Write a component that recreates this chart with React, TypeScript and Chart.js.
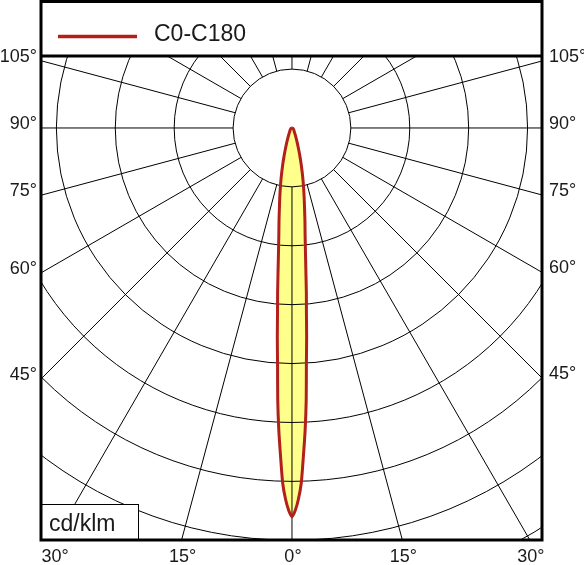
import React, { useEffect, useRef } from "react";
import { Chart, registerables } from "chart.js";

Chart.register(...registerables);

// Gamma angles (deg from nadir) and luminous intensity (cd/klm), C0-C180 plane (symmetric)
const gammaAngles = [0, 0.5, 1, 1.5, 2, 2.5, 3, 3.5, 4, 4.5, 5, 6, 7, 8, 9, 10, 12, 14, 16, 18, 20, 25, 30, 40, 50, 60, 70, 80, 90];
const intensityC0C180 = [6600, 6490, 6300, 6030, 5570, 5130, 4620, 4010, 3570, 3125, 2800, 2210, 1830, 1580, 1360, 1190, 900, 660, 475, 340, 255, 135, 85, 50, 35, 25, 17, 8, 0];

const seriesLabel = "C0-C180";
const unitLabel = "cd/klm";
const ringValues = [1000, 2000, 3000, 4000, 5000, 6000, 7000, 8000, 9000];
const sideLabelAngles = [45, 60, 75, 90, 105];
const bottomLabelAngles = [-30, -15, 0, 15, 30];
const radialAngles = [0, 15, 30, 45, 60, 75, 90, 105, 120, 135, 150, 165, 180, 195, 210, 225, 240, 255, 270, 285, 300, 315, 330, 345];

const FONT = '"Liberation Sans", Arial, sans-serif';
const RED = "rgb(178,32,28)";

function buildCurve() {
  const pts: { x: number; y: number }[] = [];
  for (let i = gammaAngles.length - 1; i >= 0; i--) {
    const a = (gammaAngles[i] * Math.PI) / 180;
    pts.push({ x: -intensityC0C180[i] * Math.sin(a), y: -intensityC0C180[i] * Math.cos(a) });
  }
  for (let i = 1; i < gammaAngles.length; i++) {
    const a = (gammaAngles[i] * Math.PI) / 180;
    pts.push({ x: intensityC0C180[i] * Math.sin(a), y: -intensityC0C180[i] * Math.cos(a) });
  }
  return pts;
}

const polarPlugin = {
  id: "polarPlugin",
  afterDatasetDraw(chart: any, args: any) {
    if (args.index !== 1) return;
    const { ctx, chartArea } = chart;
    const xs = chart.scales.x;
    const ys = chart.scales.y;
    const cx = xs.getPixelForValue(0);
    const cy = ys.getPixelForValue(0);
    const rp = (v: number) => Math.abs(xs.getPixelForValue(v) - cx);
    ctx.save();
    ctx.beginPath();
    ctx.rect(chartArea.left, chartArea.top, chartArea.right - chartArea.left, chartArea.bottom - chartArea.top);
    ctx.clip();
    ctx.strokeStyle = "#000";
    ctx.lineWidth = 1;
    ringValues.forEach((v) => {
      ctx.beginPath();
      ctx.arc(cx, cy, rp(v), 0, Math.PI * 2);
      ctx.stroke();
    });
    const r0 = ringValues[0];
    const r1 = ringValues[ringValues.length - 1] * 1.5;
    radialAngles.forEach((deg) => {
      const a = (deg * Math.PI) / 180;
      const x0 = xs.getPixelForValue(r0 * Math.sin(a));
      const y0 = ys.getPixelForValue(-r0 * Math.cos(a));
      const x1 = xs.getPixelForValue(r1 * Math.sin(a));
      const y1 = ys.getPixelForValue(-r1 * Math.cos(a));
      ctx.beginPath();
      ctx.moveTo(x0, y0);
      ctx.lineTo(x1, y1);
      ctx.stroke();
    });
    ctx.restore();
  },
  afterDraw(chart: any) {
    const { ctx, chartArea } = chart;
    const xs = chart.scales.x;
    const ys = chart.scales.y;
    const cx = xs.getPixelForValue(0);
    const cy = ys.getPixelForValue(0);
    const L = chartArea.left, R = chartArea.right, T = chartArea.top, B = chartArea.bottom;
    ctx.save();

    // unit box
    ctx.fillStyle = "#fff";
    ctx.fillRect(L, B - 35, 97, 35);
    ctx.strokeStyle = "#000";
    ctx.lineWidth = 1;
    ctx.strokeRect(L + 0.5, B - 35.5, 97, 35);
    ctx.fillStyle = "#1a1a1a";
    ctx.font = `23px ${FONT}`;
    ctx.textAlign = "left";
    ctx.textBaseline = "alphabetic";
    ctx.fillText(unitLabel, L + 8, B - 9);

    // frame
    ctx.lineWidth = 3;
    ctx.strokeStyle = "#000";
    ctx.strokeRect(L, 1.5, R - L, B - 1.5);
    ctx.beginPath();
    ctx.moveTo(L, T);
    ctx.lineTo(R, T);
    ctx.stroke();

    // legend
    ctx.strokeStyle = RED;
    ctx.lineWidth = 3.5;
    ctx.beginPath();
    ctx.moveTo(L + 17, 36.5);
    ctx.lineTo(L + 96, 36.5);
    ctx.stroke();
    ctx.fillStyle = "#1a1a1a";
    ctx.font = `23px ${FONT}`;
    ctx.textAlign = "left";
    ctx.textBaseline = "alphabetic";
    ctx.fillText(chart.data.datasets[0].label, L + 113, 41);

    // side labels
    ctx.font = `18px ${FONT}`;
    ctx.fillStyle = "#1a1a1a";
    ctx.textBaseline = "alphabetic";
    sideLabelAngles.forEach((deg) => {
      const a = (deg * Math.PI) / 180;
      const tL = (cx - L) / Math.sin(a);
      const yL = cy + tL * Math.cos(a);
      ctx.textAlign = "right";
      ctx.fillText(`${deg}°`, L - 4, yL + 1);
      const tR = (R - cx) / Math.sin(a);
      const yR = cy + tR * Math.cos(a);
      ctx.textAlign = "left";
      ctx.fillText(`${deg}°`, R + 7, yR + 1);
    });
    // bottom labels
    ctx.textAlign = "center";
    bottomLabelAngles.forEach((deg) => {
      const a = (deg * Math.PI) / 180;
      const t = (B - cy) / Math.cos(a);
      const x = cx + t * Math.sin(a);
      ctx.fillText(`${Math.abs(deg)}°`, x + 1, B + 22);
    });
    ctx.restore();
  },
};

export default function App() {
  const ref = useRef<HTMLCanvasElement | null>(null);
  useEffect(() => {
    if (!ref.current) return;
    const curve = buildCurve();
    const chart = new Chart(ref.current, {
      type: "scatter",
      data: {
        datasets: [
          {
            label: seriesLabel,
            data: curve,
            showLine: true,
            borderColor: RED,
            borderWidth: 3,
            pointRadius: 0,
            tension: 0.2,
            fill: false,
          },
          {
            label: "fill",
            data: curve,
            showLine: true,
            borderWidth: 0,
            borderColor: "rgba(0,0,0,0)",
            backgroundColor: "rgb(255,255,140)",
            pointRadius: 0,
            tension: 0.2,
            fill: "shape",
          },
        ],
      } as any,
      options: {
        animation: false,
        responsive: false,
        devicePixelRatio: 1,
        layout: { padding: { left: 41, right: 42, top: 56, bottom: 25 } },
        plugins: { legend: { display: false }, tooltip: { enabled: false } },
        scales: {
          x: { type: "linear", display: false, min: -4261, max: 4245 },
          y: { type: "linear", display: false, min: -6995, max: 1222 },
        },
      } as any,
      plugins: [polarPlugin],
    });
    return () => chart.destroy();
  }, []);
  return (
    <div style={{ position: "absolute", left: 0, top: 0, width: 584, height: 565, background: "#fff" }}>
      <canvas ref={ref} width={584} height={565} style={{ display: "block" }} />
    </div>
  );
}
